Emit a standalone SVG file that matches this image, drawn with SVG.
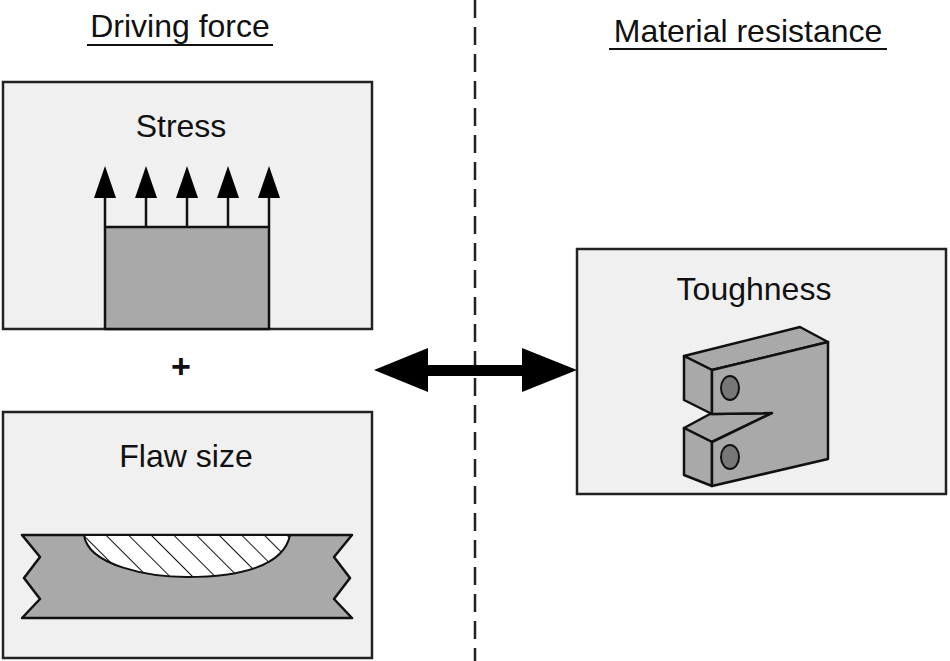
<svg xmlns="http://www.w3.org/2000/svg" width="950" height="661" viewBox="0 0 950 661">
<style>
text{font-family:"Liberation Sans",Arial,sans-serif;fill:#111}
.box{fill:#f0f0f0;stroke:#222;stroke-width:2.5}
.g{fill:#a9a9a9;stroke:#111;stroke-width:2.5;stroke-linejoin:round}
.t{font-size:32px;text-anchor:middle}
</style>
<defs>
<pattern id="hatch" patternUnits="userSpaceOnUse" width="16" height="16" patternTransform="rotate(-45)">
<rect width="16" height="16" fill="#fff"/><line x1="0" y1="0" x2="0" y2="16" stroke="#111" stroke-width="2"/>
</pattern>
</defs>
<rect width="950" height="661" fill="#fff"/>
<g id="headings">
<text x="180" y="37" class="t">Driving force</text>
<line x1="87" y1="45" x2="273" y2="45" stroke="#111" stroke-width="2"/>
<text x="748" y="42" class="t">Material resistance</text>
<line x1="609" y1="49" x2="887" y2="49" stroke="#111" stroke-width="2"/>
</g>
<g id="stress">
<rect class="box" x="3" y="82" width="369" height="247"/>
<text x="181" y="137" class="t">Stress</text>
<rect class="g" x="105" y="227" width="164" height="102"/>
<g stroke="#111" stroke-width="2.5">
<line x1="105" y1="227" x2="105" y2="195"/><line x1="146" y1="227" x2="146" y2="195"/><line x1="187" y1="227" x2="187" y2="195"/><line x1="228" y1="227" x2="228" y2="195"/><line x1="269" y1="227" x2="269" y2="195"/>
</g>
<g fill="#000">
<polygon points="105,166 94,198 116,198"/><polygon points="146,166 135,198 157,198"/><polygon points="187,166 176,198 198,198"/><polygon points="228,166 217,198 239,198"/><polygon points="269,166 258,198 280,198"/>
</g>
</g>
<text id="plus" x="181" y="378" style="font-size:34px;font-weight:bold;text-anchor:middle">+</text>
<g id="flaw">
<rect class="box" x="3" y="412" width="369" height="246"/>
<text x="186" y="467" class="t">Flaw size</text>
<polygon class="g" points="22,535 352,535 334,557 350,578 334,599 352,618 22,618 40,599 24,578 40,557"/>
<path d="M84,535 C88,566 150,577 187,577 C240,577 284,566 290,535 Z" fill="url(#hatch)" stroke="#111" stroke-width="2"/>
</g>
<g id="toughness">
<rect class="box" x="577" y="249" width="369" height="245"/>
<text x="754" y="300" class="t">Toughness</text>
<polygon class="g" points="684,356 800,327 828,342 712,370"/>
<polygon class="g" points="684,356 712,370 712,414 684,400"/>
<polygon class="g" points="684,428 710,414 772,413 712,442"/>
<polygon class="g" points="684,428 712,442 712,486 684,475"/>
<polygon class="g" points="712,370 828,342 828,459 712,486 712,442 772,413 712,414"/>
<ellipse cx="730" cy="388" rx="9" ry="12" fill="#777" stroke="#111" stroke-width="2"/>
<ellipse cx="730" cy="457" rx="9" ry="12" fill="#777" stroke="#111" stroke-width="2"/>
</g>
<g id="connectors">
<line x1="475" y1="0" x2="475" y2="661" stroke="#222" stroke-width="2.5" stroke-dasharray="18,9"/>
<rect x="420" y="365" width="108" height="11" fill="#000"/>
<polygon points="374,370 428,348 428,392" fill="#000"/>
<polygon points="577,370 522,348 522,392" fill="#000"/>
</g>
</svg>
